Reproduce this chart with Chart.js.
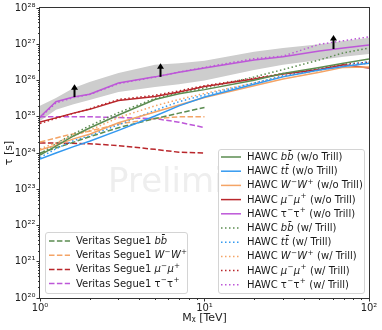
<!DOCTYPE html>
<html><head><meta charset="utf-8">
<script src="https://cdn.jsdelivr.net/npm/chart.js@4.4.1/dist/chart.umd.min.js"></script>
<style>html,body{margin:0;padding:0;background:#fff}canvas{display:block}</style>
</head><body>
<canvas id="c" width="382" height="330"></canvas>
<script>
// ---------------- data ----------------
const massTeV = [1, 1.25, 1.6, 2, 3, 5, 7, 10, 20, 30, 50, 70, 100];

const hawcBB_noTrill   = [8.7e23, 1.55e24, 2.95e24, 4.9e24, 1.12e25, 3.0e25, 4.3e25, 5.6e25, 1.02e26, 1.55e26, 2.3e26, 3.0e26, 3.9e26];
const hawcTT_noTrill   = [6.8e23, 1.0e24, 1.5e24, 2.1e24, 4.2e24, 1.05e25, 2.0e25, 3.5e25, 7.9e25, 1.26e26, 1.95e26, 2.45e26, 3.0e26];
const hawcWW_noTrill   = [1.2e24, 1.65e24, 2.45e24, 3.3e24, 6.8e24, 1.35e25, 2.1e25, 3.4e25, 7.2e25, 1.1e26, 1.7e26, 2.3e26, 2.35e26];
const hawcMuMu_noTrill = [7.2e24, 9.3e24, 1.26e25, 1.6e25, 2.8e25, 3.6e25, 4.8e25, 6.8e25, 1.1e26, 1.5e26, 2.0e26, 2.7e26, 2.2e26];
const hawcTauTau_noTrill = [9.8e24, 2.6e25, 3.5e25, 4.2e25, 8.5e25, 1.26e26, 1.7e26, 2.2e26, 3.7e26, 4.5e26, 6.5e26, 7.9e26, 9.5e26];

const hawcBB_trill   = [9.5e23, 1.8e24, 3.4e24, 5.6e24, 1.3e25, 3.2e25, 4.6e25, 6.2e25, 1.25e26, 2.0e26, 3.7e26, 5.8e26, 7.9e26];
const hawcTT_trill   = [7.5e23, 1.3e24, 2.2e24, 3.0e24, 6.0e24, 1.5e25, 2.6e25, 4.0e25, 8.5e25, 1.35e26, 2.05e26, 2.6e26, 3.3e26];
const hawcWW_trill   = [1.3e24, 1.9e24, 3.0e24, 4.2e24, 9.5e24, 2.0e25, 3.0e25, 4.4e25, 8.5e25, 1.3e26, 1.9e26, 2.5e26, 3.0e26];
const hawcMuMu_trill = [6.5e24, 9.0e24, 1.25e25, 1.65e25, 3.0e25, 3.9e25, 5.2e25, 7.2e25, 1.15e26, 1.55e26, 2.1e26, 2.8e26, 3.2e26];
const hawcTauTau_trill = [9.5e24, 2.4e25, 3.4e25, 4.1e25, 8.2e25, 1.25e26, 1.7e26, 2.3e26, 4.0e26, 4.7e26, 1.0e27, 1.25e27, 1.6e27];

const bandUpper = [2.0e25, 3.3e25, 6.2e25, 9.1e25, 1.6e26, 2.7e26, 3.0e26, 3.5e26, 6.2e26, 7.9e26, 1.0e27, 1.23e27, 1.5e27];
const bandLower = [7.6e24, 1.55e25, 2.2e25, 2.9e25, 4.8e25, 6.6e25, 7.9e25, 1.0e26, 1.95e26, 2.7e26, 3.7e26, 4.5e26, 5.4e26];

const veritasMass = [1, 1.5, 2, 3, 5, 7, 10];
const veritasBB     = [1.0e24, 1.8e24, 2.8e24, 5.0e24, 8.9e24, 1.26e25, 1.8e25];
const veritasWW     = [2.0e24, 3.2e24, 4.0e24, 6.3e24, 8.9e24, 1.0e25, 1.0e25];
const veritasMuMu   = [1.9e24, 1.85e24, 1.8e24, 1.6e24, 1.26e24, 1.05e24, 1.0e24];
const veritasTauTau = [1.0e25, 1.0e25, 1.0e25, 9.5e24, 8.9e24, 7.1e24, 5.0e24];

const arrowMass = [1.6, 5.4, 60];
const arrowFrom = [3.5e25, 1.26e26, 7.4e26];
const arrowTo   = [7.9e25, 3.0e26, 1.8e27];

const xTickValues = [1, 10, 100];
const xTickLabels = ['10\u2070', '10\u00B9', '10\u00B2'];
const yTickValues = [1e20, 1e21, 1e22, 1e23, 1e24, 1e25, 1e26, 1e27, 1e28];
const yTickLabels = ['10\u00B2\u2070','10\u00B2\u00B9','10\u00B2\u00B2','10\u00B2\u00B3','10\u00B2\u2074','10\u00B2\u2075','10\u00B2\u2076','10\u00B2\u2077','10\u00B2\u2078'];

const hawcLabels = [
  'HAWC *bb\u0304* (w/o Trill)', 'HAWC *tt\u0304* (w/o Trill)', 'HAWC *W*\u207B*W*\u207A (w/o Trill)',
  'HAWC *\u03BC*\u207B*\u03BC*\u207A (w/o Trill)', 'HAWC \u03C4\u207B\u03C4\u207A (w/o Trill)',
  'HAWC *bb\u0304* (w/ Trill)', 'HAWC *tt\u0304* (w/ Trill)', 'HAWC *W*\u207B*W*\u207A (w/ Trill)',
  'HAWC *\u03BC*\u207B*\u03BC*\u207A (w/ Trill)', 'HAWC \u03C4\u207B\u03C4\u207A (w/ Trill)'
];
const veritasLabels = ['Veritas Segue1 *bb\u0304*', 'Veritas Segue1 *W*\u207B*W*\u207A', 'Veritas Segue1 *\u03BC*\u207B*\u03BC*\u207A', 'Veritas Segue1 \u03C4\u207B\u03C4\u207A'];

// ---------------- styles ----------------
const COL = {green:'#5b8c50', blue:'#3399f0', orange:'#f4a466', red:'#b9262b', purple:'#bd57d8'};
const DASH = {solid: [], dot: [1.5, 2.5], dash: [5.5, 2.4]};

function mk(label, group, xs, ys, color, style) {
  return { label, group, data: xs.map((x, i) => ({x, y: ys[i]})), borderColor: color,
    borderDash: DASH[style], borderWidth: 1.5, pointRadius: 0, fill: false, tension: 0 };
}

const datasets = [
  mk(hawcLabels[0], 'hawc', massTeV, hawcBB_noTrill, COL.green, 'solid'),
  mk(hawcLabels[1], 'hawc', massTeV, hawcTT_noTrill, COL.blue, 'solid'),
  mk(hawcLabels[2], 'hawc', massTeV, hawcWW_noTrill, COL.orange, 'solid'),
  mk(hawcLabels[3], 'hawc', massTeV, hawcMuMu_noTrill, COL.red, 'solid'),
  mk(hawcLabels[4], 'hawc', massTeV, hawcTauTau_noTrill, COL.purple, 'solid'),
  mk(hawcLabels[5], 'hawc', massTeV, hawcBB_trill, COL.green, 'dot'),
  mk(hawcLabels[6], 'hawc', massTeV, hawcTT_trill, COL.blue, 'dot'),
  mk(hawcLabels[7], 'hawc', massTeV, hawcWW_trill, COL.orange, 'dot'),
  mk(hawcLabels[8], 'hawc', massTeV, hawcMuMu_trill, COL.red, 'dot'),
  mk(hawcLabels[9], 'hawc', massTeV, hawcTauTau_trill, COL.purple, 'dot'),
  mk(veritasLabels[0], 'veritas', veritasMass, veritasBB, COL.green, 'dash'),
  mk(veritasLabels[1], 'veritas', veritasMass, veritasWW, COL.orange, 'dash'),
  mk(veritasLabels[2], 'veritas', veritasMass, veritasMuMu, COL.red, 'dash'),
  mk(veritasLabels[3], 'veritas', veritasMass, veritasTauTau, COL.purple, 'dash'),
  { label: 'band', data: massTeV.map((x, i) => ({x, y: bandUpper[i]})), borderColor: 'rgba(0,0,0,0)',
    borderWidth: 0, pointRadius: 0, backgroundColor: '#cdcdcd', fill: '+1', order: 20 },
  { label: 'bandLow', data: massTeV.map((x, i) => ({x, y: bandLower[i]})), borderColor: 'rgba(0,0,0,0)',
    borderWidth: 0, pointRadius: 0, fill: false, order: 20 }
];

const FONT = '"DejaVu Sans", sans-serif';
const SUP = {'\u207B': '\u2212', '\u207A': '+'};

function richText(ctx, text, x, y, size) {
  const parts = text.split('*');
  let cx = x;
  parts.forEach((p, i) => {
    if (!p) return;
    // split superscript characters out
    let buf = '';
    const flush = () => {
      if (!buf) return;
      ctx.font = (i % 2 ? 'italic ' : '') + size + 'px ' + FONT;
      ctx.fillText(buf, cx, y);
      cx += ctx.measureText(buf).width;
      buf = '';
    };
    for (const ch of p) {
      if (SUP[ch]) {
        flush();
        ctx.font = (size * 0.72).toFixed(1) + 'px ' + FONT;
        ctx.fillText(SUP[ch], cx + 0.3, y - size * 0.38);
        cx += ctx.measureText(SUP[ch]).width + 0.6;
      } else buf += ch;
    }
    flush();
  });
}

function roundRect(ctx, x, y, w, h, r) {
  ctx.beginPath();
  ctx.moveTo(x + r, y); ctx.lineTo(x + w - r, y); ctx.arcTo(x + w, y, x + w, y + r, r);
  ctx.lineTo(x + w, y + h - r); ctx.arcTo(x + w, y + h, x + w - r, y + h, r);
  ctx.lineTo(x + r, y + h); ctx.arcTo(x, y + h, x, y + h - r, r);
  ctx.lineTo(x, y + r); ctx.arcTo(x, y, x + r, y, r); ctx.closePath();
}

function drawLegend(ctx, items, box) {
  ctx.save();
  roundRect(ctx, box.x + 0.5, box.y + 0.5, box.w, box.h, 2.5);
  ctx.fillStyle = 'rgba(255,255,255,0.85)'; ctx.fill();
  ctx.strokeStyle = '#d4d4d4'; ctx.lineWidth = 1; ctx.stroke();
  items.forEach((ds, i) => {
    const y = box.row0 + i * box.step;
    ctx.strokeStyle = ds.borderColor; ctx.lineWidth = ds.borderWidth;
    ctx.setLineDash(ds.borderDash);
    ctx.beginPath(); ctx.moveTo(box.s0, y); ctx.lineTo(box.s1, y); ctx.stroke();
    ctx.setLineDash([]);
    ctx.fillStyle = '#1a1a1a'; ctx.textBaseline = 'middle'; ctx.textAlign = 'left';
    richText(ctx, ds.label, box.tx, y + 0.5, 10);
  });
  ctx.restore();
}

const decorPlugin = {
  id: 'decor',
  beforeDatasetsDraw(chart) {
    const {ctx, chartArea: a} = chart;
    ctx.save();
    ctx.fillStyle = '#eeeeee';
    ctx.font = '34px ' + FONT;
    ctx.textBaseline = 'alphabetic';
    ctx.fillText('Preliminary', a.left + 68, a.top + 184);
    ctx.restore();
  },
  afterDatasetsDraw(chart) {
    const {ctx, chartArea: a, scales: {x, y}} = chart;
    ctx.save();
    // arrows
    ctx.fillStyle = '#000'; ctx.strokeStyle = '#000'; ctx.lineWidth = 2;
    arrowMass.forEach((m, i) => {
      const px = Math.round(x.getPixelForValue(m)) + 0.5;
      const y0 = y.getPixelForValue(arrowFrom[i]);
      const y1 = y.getPixelForValue(arrowTo[i]);
      ctx.beginPath(); ctx.moveTo(px, y0); ctx.lineTo(px, y1 + 4); ctx.stroke();
      ctx.beginPath(); ctx.moveTo(px, y1); ctx.lineTo(px - 3.5, y1 + 5.5); ctx.lineTo(px + 3.5, y1 + 5.5); ctx.closePath(); ctx.fill();
    });
    // frame
    ctx.strokeStyle = '#333'; ctx.lineWidth = 1;
    ctx.strokeRect(a.left - 0.5, a.top - 0.5, a.right - a.left + 1, a.bottom - a.top + 1);
    // minor ticks
    ctx.beginPath();
    for (let d = 0; d < 2; d++) for (let k = 2; k <= 9; k++) {
      const px = Math.round(x.getPixelForValue(k * Math.pow(10, d))) + 0.5;
      ctx.moveTo(px, a.bottom); ctx.lineTo(px, a.bottom + 2);
    }
    for (let d = 20; d < 28; d++) for (let k = 2; k <= 9; k++) {
      const py = Math.round(y.getPixelForValue(k * Math.pow(10, d))) + 0.5;
      ctx.moveTo(a.left, py); ctx.lineTo(a.left - 2, py);
    }
    ctx.stroke();
    ctx.restore();
    // legends
    const dsAll = chart.data.datasets;
    drawLegend(ctx, dsAll.filter(d => d.group === 'hawc'),
      {x: 218, y: 149, w: 146, h: 144, row0: 157, step: 14.2, s0: 221, s1: 241, tx: 247});
    drawLegend(ctx, dsAll.filter(d => d.group === 'veritas'),
      {x: 45, y: 232, w: 142, h: 61, row0: 241, step: 14.2, s0: 49, s1: 70, tx: 76});
  }
};

new Chart(document.getElementById('c'), {
  type: 'line',
  data: { datasets },
  options: {
    responsive: false, animation: false, devicePixelRatio: 1,
    layout: { padding: { top: 8, right: 13, left: 0, bottom: 0 } },
    plugins: { legend: { display: false }, tooltip: { enabled: false } },
    scales: {
      x: {
        type: 'logarithmic', min: 1, max: 100,
        afterBuildTicks: s => { s.ticks = xTickValues.map(v => ({value: v})); },
        afterFit: s => { s.height = 32; },
        ticks: { autoSkip: false, maxRotation: 0, padding: 1, color: '#222',
          font: { family: FONT, size: 10 },
          callback: (v) => { const i = xTickValues.indexOf(v); return i >= 0 ? xTickLabels[i] : ''; } },
        grid: { drawOnChartArea: false, tickLength: 3.5, color: '#333', tickColor: '#333' },
        border: { display: false },
        title: { display: true, text: 'M\u1D6A [TeV]', color: '#222', font: { family: FONT, size: 11 },
          padding: { top: 0, bottom: 5 } }
      },
      y: {
        type: 'logarithmic', min: 1e20, max: 1e28,
        afterBuildTicks: s => { s.ticks = yTickValues.map(v => ({value: v})); },
        afterFit: s => { s.width = 40; },
        ticks: { autoSkip: false, padding: 1, color: '#222', font: { family: FONT, size: 10 },
          callback: (v) => { const i = yTickValues.indexOf(v); return i >= 0 ? yTickLabels[i] : ''; } },
        grid: { drawOnChartArea: false, tickLength: 3.5, color: '#333', tickColor: '#333' },
        border: { display: false },
        title: { display: true, text: '\u03C4 [s]', color: '#222', font: { family: FONT, size: 11 },
          padding: { top: 3, bottom: 0 } }
      }
    }
  },
  plugins: [decorPlugin]
});
</script>
</body></html>
